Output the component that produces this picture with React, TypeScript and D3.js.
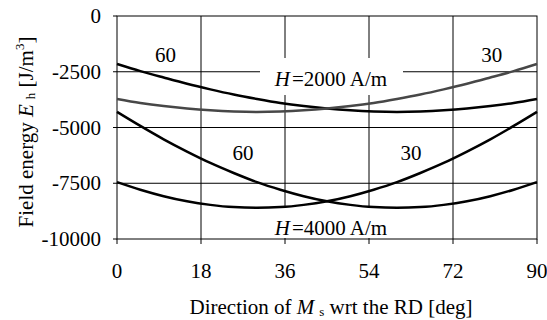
import * as d3 from "d3";

// angle of Ms wrt RD [deg]
const angles = [0, 5, 10, 15, 20, 25, 30, 35, 40, 45, 50, 55, 60, 65, 70, 75, 80, 85, 90];

// H = 2000 A/m
const h2000at60 = [-2150, -2470, -2760, -3040, -3290, -3520, -3720, -3900, -4040, -4150, -4230, -4280, -4300, -4280, -4230, -4150, -4040, -3900, -3720];
const h2000at30 = [-3720, -3900, -4040, -4150, -4230, -4280, -4300, -4280, -4230, -4150, -4040, -3900, -3720, -3520, -3290, -3040, -2760, -2470, -2150];

// H = 4000 A/m
const h4000at60 = [-4300, -4930, -5530, -6080, -6590, -7040, -7450, -7790, -8080, -8310, -8470, -8570, -8600, -8570, -8470, -8310, -8080, -7790, -7450];
const h4000at30 = [-7450, -7790, -8080, -8310, -8470, -8570, -8600, -8570, -8470, -8310, -8080, -7790, -7450, -7040, -6590, -6080, -5530, -4930, -4300];

const xTicks = [0, 18, 36, 54, 72, 90];
const yTicks = [0, -2500, -5000, -7500, -10000];

const width = 547;
const height = 320;
const left = 117;
const right = 537;
const top = 16;
const bottom = 239;
const font = "Liberation Serif";
const fs = 21;

function App() {
  const x = d3.scaleLinear().domain([0, 90]).range([left, right]);
  const y = d3.scaleLinear().domain([-10000, 0]).range([bottom, top]);

  const line = d3
    .line<number>()
    .x((_, i) => x(angles[i]))
    .y((d) => y(d))
    .curve(d3.curveMonotoneX);

  const curves = [
    { data: h2000at60, color: "#000" },
    { data: h2000at30, color: "#474747" },
    { data: h4000at60, color: "#000" },
    { data: h4000at30, color: "#000" },
  ];

  return (
    <svg
      width={width}
      height={height}
      style={{ position: "absolute", left: 0, top: 0, fontFamily: font }}
    >
      <rect width={width} height={height} fill="#fff" />

      {/* grid */}
      {xTicks.slice(1, -1).map((t) => (
        <line key={"gx" + t} x1={x(t)} x2={x(t)} y1={top} y2={bottom} stroke="#000" strokeWidth={1} />
      ))}
      {yTicks.slice(1, -1).map((t) => (
        <line key={"gy" + t} x1={left} x2={right} y1={y(t)} y2={y(t)} stroke="#000" strokeWidth={1} />
      ))}

      {/* label boxes cut the grid */}
      <rect x={260} y={58} width={143} height={37} fill="#fff" />
      <rect x={260} y={207} width={143} height={31} fill="#fff" />

      {/* frame */}
      <rect x={left} y={top} width={right - left} height={bottom - top} fill="none" stroke="#000" strokeWidth={1} />

      {/* ticks */}
      {yTicks.map((t) => (
        <g key={"ty" + t}>
          <line x1={left - 4} x2={left} y1={y(t)} y2={y(t)} stroke="#000" />
          <text x={left - 16} y={y(t) + 7} textAnchor="end" fontSize={fs}>
            {t}
          </text>
        </g>
      ))}
      {xTicks.map((t) => (
        <g key={"tx" + t}>
          <line x1={x(t)} x2={x(t)} y1={bottom} y2={bottom + 5} stroke="#000" />
          <text x={x(t)} y={278} textAnchor="middle" fontSize={fs}>
            {t}
          </text>
        </g>
      ))}

      {/* curves */}
      {curves.map((c, i) => (
        <path key={i} d={line(c.data) ?? ""} fill="none" stroke={c.color} strokeWidth={2.5} />
      ))}

      {/* annotations */}
      <text x={x(10.4)} y={62} textAnchor="middle" fontSize={fs}>60</text>
      <text x={x(80.3)} y={62} textAnchor="middle" fontSize={fs}>30</text>
      <text x={x(27)} y={160} textAnchor="middle" fontSize={fs}>60</text>
      <text x={x(63)} y={160} textAnchor="middle" fontSize={fs}>30</text>
      <text x={331} y={86} textAnchor="middle" fontSize={fs}>
        <tspan fontStyle="italic">H</tspan>
        <tspan dx={2}>=2000 A/m</tspan>
      </text>
      <text x={331} y={235} textAnchor="middle" fontSize={fs}>
        <tspan fontStyle="italic">H</tspan>
        <tspan dx={2}>=4000 A/m</tspan>
      </text>

      {/* axis titles */}
      <text x={331} y={314} textAnchor="middle" fontSize={fs}>
        Direction of <tspan fontStyle="italic">M</tspan>
        <tspan fontSize={13} dx={5} dy={2}>s</tspan>
        <tspan dy={-2}> wrt the RD [deg]</tspan>
      </text>
      <text
        transform="translate(33,132) rotate(-90)"
        textAnchor="middle"
        fontSize={fs}
      >
        Field energy <tspan fontStyle="italic">E</tspan>
        <tspan fontSize={13} dx={5} dy={2}>h</tspan>
        <tspan dy={-2}> [J/m</tspan>
        <tspan fontSize={13} dy={-9}>3</tspan>
        <tspan dy={9}>]</tspan>
      </text>
    </svg>
  );
}

export default App;
